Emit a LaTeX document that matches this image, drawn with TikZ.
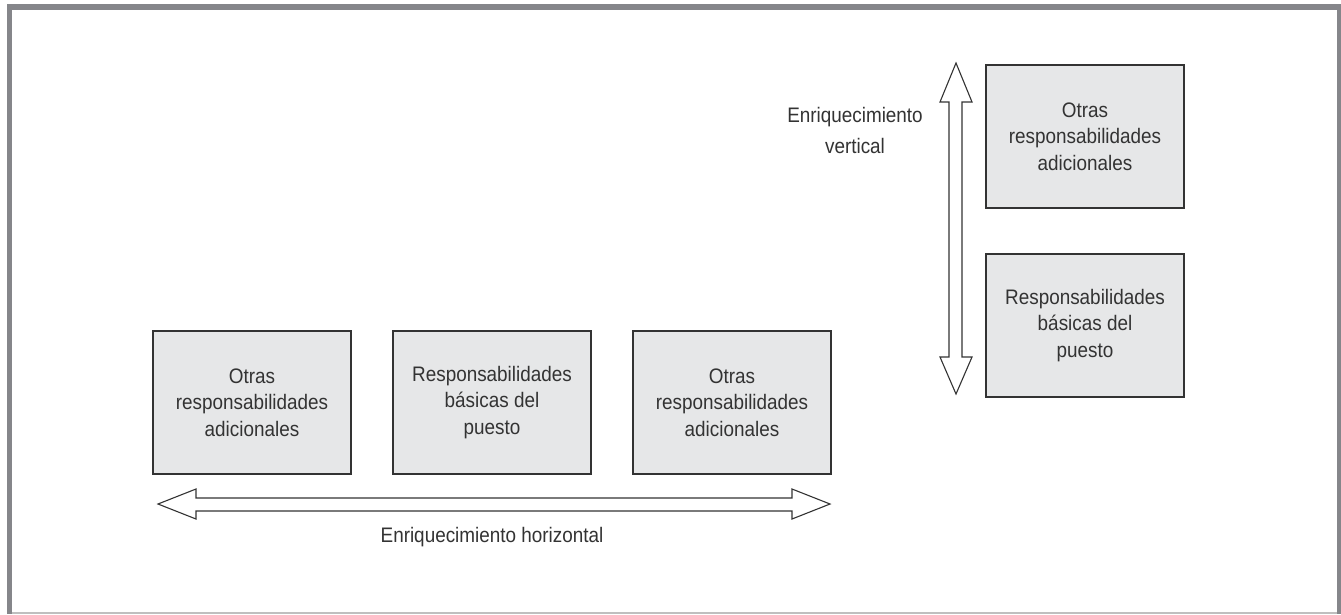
\documentclass[tikz,border=0pt]{standalone}
\usepackage{fontspec}
\setmainfont{Liberation Sans}[FakeStretch=0.9]
\definecolor{framegray}{HTML}{85868A}
\definecolor{boxfill}{HTML}{E6E7E8}
\definecolor{ink}{HTML}{333333}
\tikzset{
  rbox/.style={draw=ink, fill=boxfill, line width=1.3pt, minimum width=198pt, minimum height=143pt,
    align=center, font=\fontsize{21}{26.5}\selectfont, text=ink, inner sep=0pt},
  lbl/.style={align=center, font=\fontsize{21}{31}\selectfont, text=ink},
  arr/.style={draw=ink, fill=white, line width=1.1pt, line join=miter}
}
\begin{document}
\begin{tikzpicture}[x=1pt,y=-1pt]
\useasboundingbox (0,0) rectangle (1341,614);
% frame
\fill[framegray] (7,4) rectangle (1341,614);
\fill[white] (12,10) rectangle (1337,612);
\fill[black!25] (12,612) rectangle (1337,614);
% boxes
\node[rbox] (b1) at (252,402.5) {Otras\\responsabilidades\\adicionales};
\node[rbox] (b2) at (492,402.5) {Responsabilidades\\básicas del\\puesto};
\node[rbox] (b3) at (732,402.5) {Otras\\responsabilidades\\adicionales};
\node[rbox] (t1) at (1085,136.5) {Otras\\responsabilidades\\adicionales};
\node[rbox] (t2) at (1085,325.5) {Responsabilidades\\básicas del\\puesto};
% horizontal double arrow
\draw[arr] (158,504) -- (196,489) -- (196,498) -- (792,498) -- (792,489) -- (830,504)
  -- (792,519) -- (792,511) -- (196,511) -- (196,519) -- cycle;
% vertical double arrow
\draw[arr] (956,63) -- (972,102) -- (962,102) -- (962,357) -- (972,357) -- (956,394)
  -- (940,357) -- (949,357) -- (949,102) -- (940,102) -- cycle;
% labels
\node[lbl] (lh) at (492,537) {Enriquecimiento horizontal};
\node[lbl] (lv) at (855,130.5) {Enriquecimiento\\vertical};
\end{tikzpicture}
\end{document}
